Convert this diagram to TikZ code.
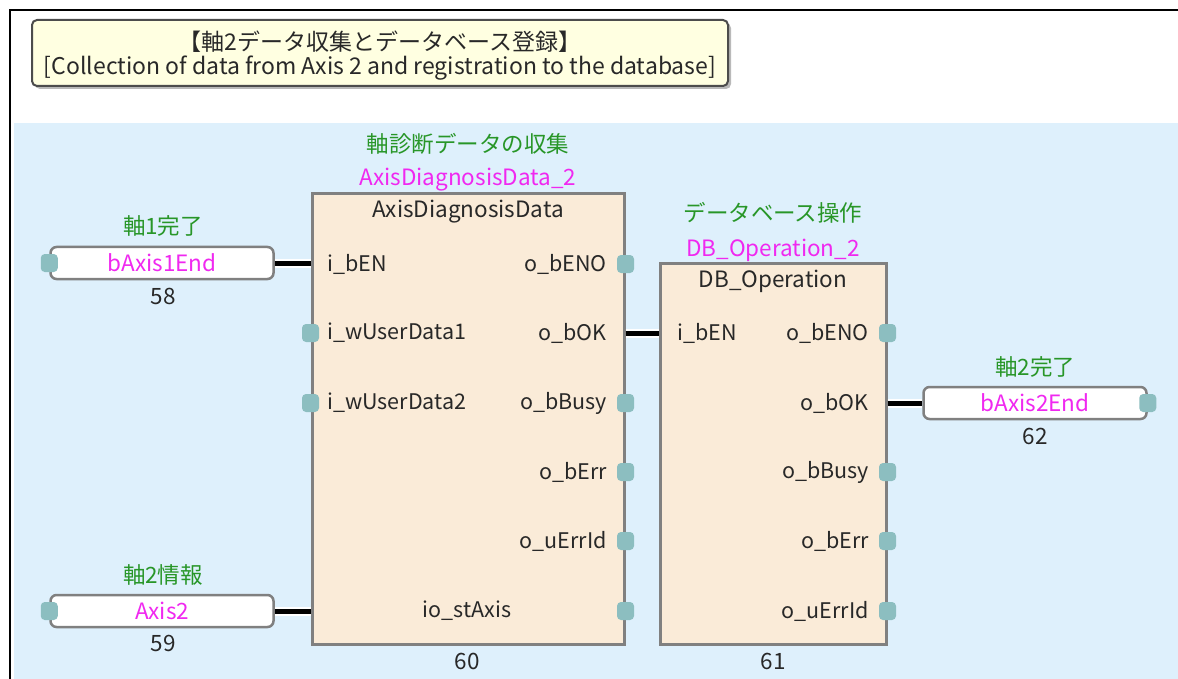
\documentclass[tikz,border=0pt]{standalone}
\usepackage{fontspec}
\setmainfont{Noto Sans CJK JP}
\definecolor{bgblue}{RGB}{222,240,252}
\definecolor{fbfill}{RGB}{250,235,216}
\definecolor{titlefill}{RGB}{255,255,225}
\definecolor{cgreen}{RGB}{40,150,40}
\definecolor{cmag}{RGB}{240,40,240}
\definecolor{pincol}{RGB}{140,190,192}
\definecolor{bgray}{RGB}{128,128,128}
\definecolor{txt}{RGB}{40,40,40}
\begin{document}
\begin{tikzpicture}[x=1pt,y=-1pt,
  lab/.style={font=\fontsize{21.5}{23}\selectfont, text=txt, inner sep=0pt},
  big/.style={lab, font=\fontsize{22.5}{24}\selectfont},
  cmt/.style={big, text=cgreen},
  inst/.style={big, text=cmag},
  fblock/.style={draw=bgray, fill=fbfill, line width=3pt, inner sep=0pt},
  var/.style={draw=bgray, fill=white, line width=2.5pt, rounded corners=6pt, minimum width=223pt, minimum height=32pt, inner sep=0pt, font=\fontsize{22.5}{24}\selectfont, text=cmag},
  pinbox/.style={fill=pincol, rounded corners=4pt, minimum width=17pt, minimum height=18pt, inner sep=0pt},
  wire/.style={line width=5pt, black, preaction={draw=white, line width=9pt}}
]
\useasboundingbox (0,0) rectangle (1178,679);
\fill[bgblue] (14,123) rectangle (1178,679);
\draw[black, line width=2pt] (10,679) -- (10,10) -- (1178,10);

% title
\fill[gray!55, rounded corners=5pt] (35,23) rectangle (731,89);
\draw[fill=titlefill, draw=gray!60!black, line width=2pt, rounded corners=5pt] (32,20) rectangle (728,86);
\node[lab, font=\fontsize{23}{25}\selectfont] (t1) at (380,42) {【軸2データ収集とデータベース登録】};
\node[lab, font=\fontsize{23}{25}\selectfont] (t2) at (380,68) {[Collection of data from Axis 2 and registration to the database]};

% block 1
\node[fblock, minimum width=312pt, minimum height=450pt] (fb1) at (468,419) {};
\node[cmt] (c1) at (468,144) {軸診断データの収集};
\node[inst] (i1) at (468,180) {AxisDiagnosisData\_2};
\node[big] (n1) at (468,212) {AxisDiagnosisData};
\node[lab, anchor=west] (a1) at (327,264) {i\_bEN};
\node[lab, anchor=west] (a2) at (327,333) {i\_wUserData1};
\node[lab, anchor=west] (a3) at (327,403) {i\_wUserData2};
\node[lab, anchor=east] (b1) at (607,264) {o\_bENO};
\node[lab, anchor=east] (b2) at (607,333) {o\_bOK};
\node[lab, anchor=east] (b3) at (607,403) {o\_bBusy};
\node[lab, anchor=east] (b4) at (607,472) {o\_bErr};
\node[lab, anchor=east] (b5) at (607,541) {o\_uErrId};
\node[lab] (b6) at (467,611) {io\_stAxis};
\node[big] (num60) at (467,661) {60};

% block 2
\node[fblock, minimum width=226pt, minimum height=381pt] (fb2) at (773,453.5) {};
\node[cmt] (c2) at (773,213) {データベース操作};
\node[inst] (i2) at (773,250) {DB\_Operation\_2};
\node[big] (n2) at (773,281) {DB\_Operation};
\node[lab, anchor=west] (d1) at (677,333) {i\_bEN};
\node[lab, anchor=east] (e1) at (869,333) {o\_bENO};
\node[lab, anchor=east] (e2) at (869,403) {o\_bOK};
\node[lab, anchor=east] (e3) at (869,472) {o\_bBusy};
\node[lab, anchor=east] (e4) at (869,541) {o\_bErr};
\node[lab, anchor=east] (e5) at (869,611) {o\_uErrId};
\node[big] (num61) at (773,661) {61};

% variables
\node[var] (v1) at (162,263) {bAxis1End};
\node[cmt] (vc1) at (163,226) {軸1完了};
\node[big] (vn1) at (163,296) {58};
\node[var] (v2) at (162,611) {Axis2};
\node[cmt] (vc2) at (163,575) {軸2情報};
\node[big] (vn2) at (163,643) {59};
\node[var] (v3) at (1035,403) {bAxis2End};
\node[cmt] (vc3) at (1035,367) {軸2完了};
\node[big] (vn3) at (1035,436) {62};

% wires
\draw[wire] (v1.east) -- (fb1.west |- v1.east);
\draw[wire] (v2.east) -- (fb1.west |- v2.east);
\draw[wire] (fb1.east |- b2) -- (fb2.west |- b2);
\draw[wire] (fb2.east |- v3.west) -- (v3.west);

% pins
\node[pinbox] (pv1) at (v1.west) {};
\node[pinbox] (pv2) at (v2.west) {};
\node[pinbox] (pv3) at (v3.east) {};
\node[pinbox] (pa2) at (fb1.west |- a2) {};
\node[pinbox] (pa3) at (fb1.west |- a3) {};
\node[pinbox] (pb1) at (fb1.east |- b1) {};
\node[pinbox] (pb3) at (fb1.east |- b3) {};
\node[pinbox] (pb4) at (fb1.east |- b4) {};
\node[pinbox] (pb5) at (fb1.east |- b5) {};
\node[pinbox] (pb6) at (fb1.east |- b6) {};
\node[pinbox] (pe1) at (fb2.east |- e1) {};
\node[pinbox] (pe3) at (fb2.east |- e3) {};
\node[pinbox] (pe4) at (fb2.east |- e4) {};
\node[pinbox] (pe5) at (fb2.east |- e5) {};
\end{tikzpicture}
\end{document}
